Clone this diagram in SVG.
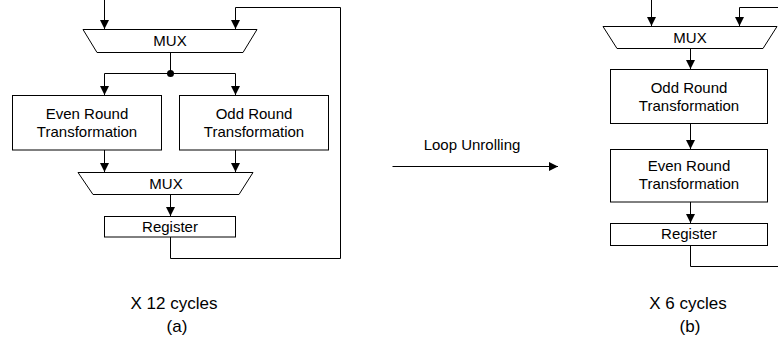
<svg xmlns="http://www.w3.org/2000/svg" width="778" height="349" viewBox="0 0 778 349">
  <style>
    .blk { fill: #fff; stroke: #000; stroke-width: 1; }
    .wire { fill: none; stroke: #000; stroke-width: 1; }
    .lbl { font-family: "Liberation Sans", Arial, sans-serif; font-size: 15px; fill: #000; text-anchor: middle; }
    .cap { font-family: "Liberation Sans", Arial, sans-serif; font-size: 17px; fill: #000; text-anchor: middle; }
  </style>
  <defs>
    <marker id="arr" markerUnits="userSpaceOnUse" markerWidth="9" markerHeight="9" refX="9" refY="4.5" orient="auto">
      <path d="M0,0 L9,4.5 L0,9 Z" fill="#000"/>
    </marker>
  </defs>

  <!-- connectors -->
  <g id="connectors">
    <!-- (a) folded datapath -->
    <path class="wire" d="M104.5,0 V29" marker-end="url(#arr)"/>
    <path class="wire" d="M170.5,237 V258.5 H340.5 V7.5 H235.5 V29" marker-end="url(#arr)"/>
    <path class="wire" d="M170.5,52 V73"/>
    <path class="wire" d="M104.5,73.5 H235.5"/>
    <path class="wire" d="M104.5,73.5 V95" marker-end="url(#arr)"/>
    <path class="wire" d="M235.5,73.5 V95" marker-end="url(#arr)"/>
    <circle cx="170.5" cy="73.5" r="3.5" fill="#000"/>
    <path class="wire" d="M104.5,150 V172" marker-end="url(#arr)"/>
    <path class="wire" d="M235.5,150 V172" marker-end="url(#arr)"/>
    <path class="wire" d="M170.5,194 V216" marker-end="url(#arr)"/>

    <!-- transformation arrow -->
    <path class="wire" d="M392.5,166.5 H558" marker-end="url(#arr)"/>

    <!-- (b) unrolled datapath -->
    <path class="wire" d="M651.5,0 V26" marker-end="url(#arr)"/>
    <path class="wire" d="M778,7.5 H739.5 V26" marker-end="url(#arr)"/>
    <path class="wire" d="M690.5,48 V69" marker-end="url(#arr)"/>
    <path class="wire" d="M690.5,123.5 V149" marker-end="url(#arr)"/>
    <path class="wire" d="M690.5,202 V223" marker-end="url(#arr)"/>
    <path class="wire" d="M690.5,246 V266.5 H778"/>
  </g>

  <!-- (a) nodes -->
  <g id="a-mux-in">
    <polygon class="blk" points="83,29.5 257,29.5 243,52.5 97,52.5"/>
    <text class="lbl" x="170" y="46">MUX</text>
  </g>
  <g id="a-even">
    <rect class="blk" x="12.5" y="95.5" width="149" height="54.5"/>
    <text class="lbl" x="87" y="119">Even Round</text>
    <text class="lbl" x="87" y="137">Transformation</text>
  </g>
  <g id="a-odd">
    <rect class="blk" x="179.5" y="95.5" width="149" height="54.5"/>
    <text class="lbl" x="254" y="119">Odd Round</text>
    <text class="lbl" x="254" y="137">Transformation</text>
  </g>
  <g id="a-mux-out">
    <polygon class="blk" points="78,172.5 253,172.5 239,194.5 93,194.5"/>
    <text class="lbl" x="166" y="188.5">MUX</text>
  </g>
  <g id="a-register">
    <rect class="blk" x="104.5" y="216.5" width="131" height="20.5"/>
    <text class="lbl" x="170" y="232">Register</text>
  </g>

  <!-- arrow label -->
  <g id="loop-label">
    <text class="lbl" x="472" y="149.5">Loop Unrolling</text>
  </g>

  <!-- (b) nodes -->
  <g id="b-mux">
    <polygon class="blk" points="603,26.5 777,26.5 763,48.5 617,48.5"/>
    <text class="lbl" x="690" y="43">MUX</text>
  </g>
  <g id="b-odd">
    <rect class="blk" x="610.5" y="69.5" width="157" height="54"/>
    <text class="lbl" x="689" y="92.5">Odd Round</text>
    <text class="lbl" x="689" y="110.5">Transformation</text>
  </g>
  <g id="b-even">
    <rect class="blk" x="610.5" y="149.5" width="157" height="52.5"/>
    <text class="lbl" x="689" y="170.5">Even Round</text>
    <text class="lbl" x="689" y="188.5">Transformation</text>
  </g>
  <g id="b-register">
    <rect class="blk" x="610.5" y="223.5" width="157" height="22"/>
    <text class="lbl" x="689" y="239">Register</text>
  </g>

  <!-- captions -->
  <text class="cap" x="174" y="309">X 12 cycles</text>
  <text class="cap" x="177" y="332">(a)</text>
  <text class="cap" x="688" y="309">X 6 cycles</text>
  <text class="cap" x="690" y="332">(b)</text>
</svg>
